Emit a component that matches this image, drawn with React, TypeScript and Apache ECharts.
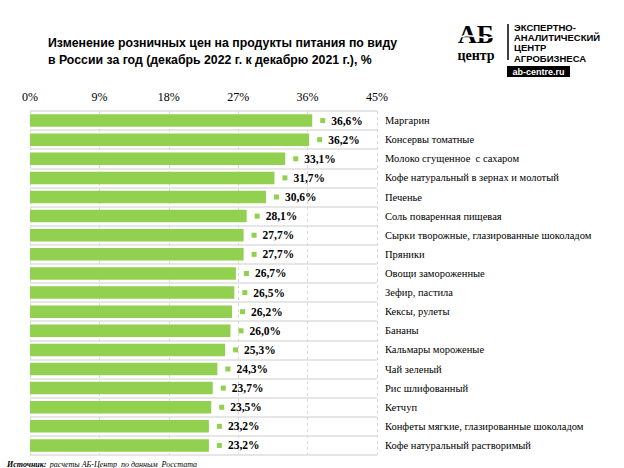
import React, { useEffect, useRef } from "react";
import * as echarts from "echarts";

const categories = [
  "Маргарин",
  "Консервы томатные",
  "Молоко сгущенное  с сахаром",
  "Кофе натуральный в зернах и молотый",
  "Печенье",
  "Соль поваренная пищевая",
  "Сырки творожные, глазированные шоколадом",
  "Пряники",
  "Овощи замороженные",
  "Зефир, пастила",
  "Кексы, рулеты",
  "Бананы",
  "Кальмары мороженые",
  "Чай зеленый",
  "Рис шлифованный",
  "Кетчуп",
  "Конфеты мягкие, глазированные шоколадом",
  "Кофе натуральный растворимый",
];
const values = [36.6, 36.2, 33.1, 31.7, 30.6, 28.1, 27.7, 27.7, 26.7, 26.5, 26.2, 26.0, 25.3, 24.3, 23.7, 23.5, 23.2, 23.2];
const titleLines = [
  "Изменение розничных цен на продукты питания по виду",
  "в России за год (декабрь 2022 г. к декабрю 2021 г.), %",
];
const logoLines = ["ЭКСПЕРТНО-", "АНАЛИТИЧЕСКИЙ", "ЦЕНТР", "АГРОБИЗНЕСА"];
const sourceLabel = "Источник:";
const sourceText = "расчеты АБ-Центр  по данным  Росстата";

const GREEN = "#92d050";
const SERIF = "'Liberation Serif', 'Times New Roman', serif";
const SANS = "'Liberation Sans', Arial, sans-serif";

export default function App() {
  const ref = useRef<HTMLDivElement>(null);
  useEffect(() => {
    if (!ref.current) return;
    const chart = echarts.init(ref.current, null, { renderer: "svg" });
    chart.setOption({
      animation: false,
      backgroundColor: "#ffffff",
      grid: { left: 30, right: 247, top: 111, bottom: 13, containLabel: false },
      xAxis: {
        type: "value",
        position: "top",
        min: 0,
        max: 45,
        interval: 9,
        axisLine: { show: false },
        axisTick: { show: false },
        axisLabel: {
          formatter: "{value}%",
          margin: 8,
          color: "#000",
          fontFamily: SERIF,
          fontSize: 12,
        },
        splitLine: { show: true, lineStyle: { type: [3, 3], color: "#d9d9d9", width: 1 } },
      },
      yAxis: {
        type: "category",
        data: categories,
        inverse: true,
        position: "right",
        axisLine: { show: false },
        axisTick: { show: false },
        axisLabel: {
          margin: 8,
          color: "#000",
          fontFamily: SERIF,
          fontSize: 10.5,
        },
        splitLine: { show: true, lineStyle: { color: "#dedede", width: 1.5 } },
      },
      series: [
        {
          type: "bar",
          data: values,
          barWidth: 12.5,
          itemStyle: { color: GREEN },
          label: {
            show: true,
            position: "right",
            distance: 8,
            formatter: (p: any) =>
              "{s| }{v|" + Number(p.value).toFixed(1).replace(".", ",") + "%}",
            rich: {
              s: { backgroundColor: GREEN, width: 5, height: 5, fontSize: 5 },
              v: {
                fontFamily: SERIF,
                fontWeight: "bold",
                fontSize: 11.5,
                color: "#000",
                padding: [0, 0, 0, 6],
              },
            },
          },
        },
      ],
      graphic: [
        {
          type: "text",
          left: 48,
          top: 34,
          style: {
            text: titleLines.join("\n"),
            font: `bold 12.3px ${SANS}`,
            lineHeight: 17,
            fill: "#000",
          },
        },
        {
          type: "text",
          x: 476,
          y: 34,
          style: {
            text: "АБ",
            font: `bold 26px ${SERIF}`,
            fill: "#000",
            align: "center",
            verticalAlign: "middle",
          },
        },
        {
          type: "bezierCurve",
          shape: { x1: 455, y1: 39, cpx1: 470, cpy1: 30, cpx2: 485, cpy2: 44, x2: 500, y2: 34 },
          style: { stroke: "#fff", lineWidth: 1.5, fill: null },
        },
        {
          type: "text",
          x: 476,
          y: 55,
          style: {
            text: "центр",
            font: `bold 14px ${SERIF}`,
            fill: "#000",
            align: "center",
            verticalAlign: "middle",
          },
        },
        {
          type: "line",
          shape: { x1: 508, y1: 24, x2: 508, y2: 60 },
          style: { stroke: "#000", lineWidth: 1.5 },
        },
        {
          type: "text",
          left: 514,
          top: 22,
          style: {
            text: logoLines.join("\n"),
            font: `bold 9.5px ${SANS}`,
            lineHeight: 10.3,
            fill: "#000",
          },
        },
        {
          type: "rect",
          shape: { x: 507, y: 66, width: 63, height: 11 },
          style: { fill: "#000" },
        },
        {
          type: "text",
          x: 538.5,
          y: 71.5,
          style: {
            text: "ab-centre.ru",
            font: `bold 9px ${SANS}`,
            fill: "#fff",
            align: "center",
            verticalAlign: "middle",
          },
        },
        {
          type: "text",
          left: 7,
          top: 458,
          style: {
            text: "{a|" + sourceLabel + "} {b|" + sourceText + "}",
            rich: {
              a: { font: `bold italic 8px ${SERIF}`, fill: "#000" },
              b: { font: `italic 8px ${SERIF}`, fill: "#000" },
            },
          },
        },
      ],
    });
    return () => chart.dispose();
  }, []);
  return (
    <div
      ref={ref}
      style={{ position: "fixed", left: 0, top: 0, width: 624, height: 468 }}
    />
  );
}
